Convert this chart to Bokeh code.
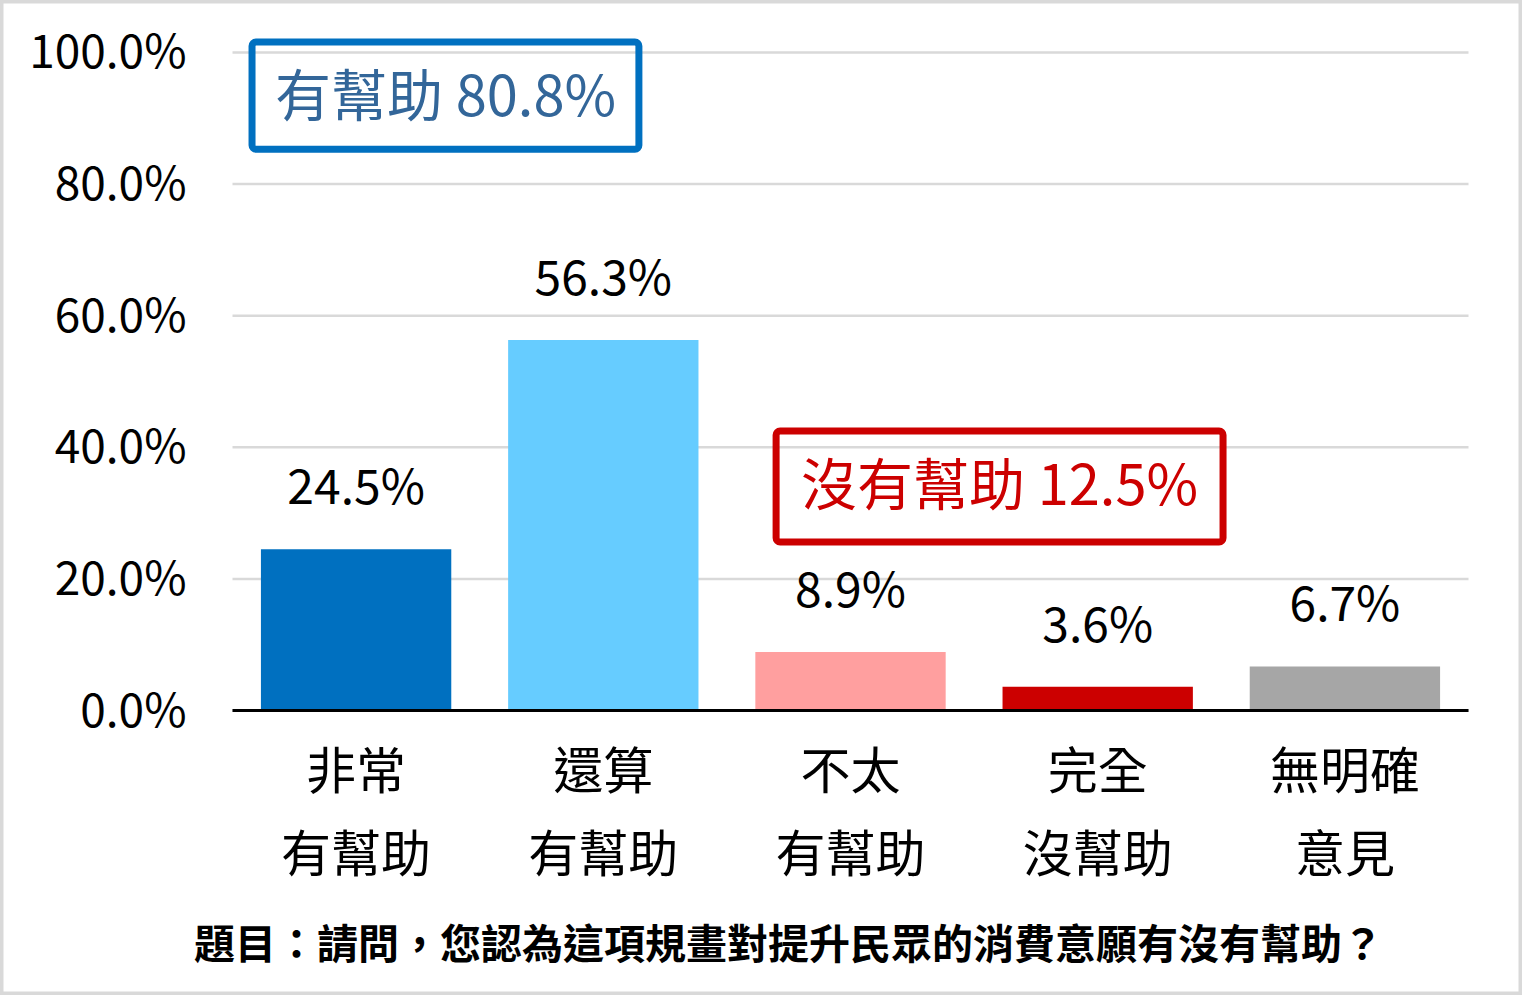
from bokeh.plotting import figure
from bokeh.models import Range1d, Label, BoxAnnotation, ColumnDataSource
from bokeh.embed import file_html
from bokeh.resources import INLINE
from bokeh.core.properties import value

categories = ["非常\n有幫助", "還算\n有幫助", "不太\n有幫助", "完全\n沒幫助", "無明確\n意見"]
values = [24.5, 56.3, 8.9, 3.6, 6.7]
colors = ["#0070C0", "#66CCFF", "#FF9F9F", "#CC0000", "#A6A6A6"]
y_ticks = [0, 20, 40, 60, 80, 100]
helpful_text = "有幫助 80.8%"
unhelpful_text = "沒有幫助 12.5%"
question = "題目：請問，您認為這項規畫對提升民眾的消費意願有沒有幫助？"

FONT = "Noto Sans CJK TC"
W, H = 1522, 995
n = len(categories)

xs = [i + 0.5 for i in range(n)]
line1 = [c.split("\n")[0] for c in categories]
line2 = [c.split("\n")[1] for c in categories]
src = ColumnDataSource(dict(x=xs, top=values, color=colors,
                            label=[f"{v:.1f}%" for v in values],
                            l1=line1, l2=line2, zero=[0] * n))
tick_src = ColumnDataSource(dict(y=y_ticks, x0=[0] * len(y_ticks), x1=[n] * len(y_ticks),
                                 label=[f"{t:.1f}%" for t in y_ticks]))

p = figure(width=W, height=H, x_range=Range1d(-0.9385, 5.2184),
           y_range=Range1d(-43.31, 107.90), output_backend="svg", toolbar_location=None,
           min_border=0, min_border_left=0, min_border_right=0, min_border_top=0,
           min_border_bottom=0)
p.xaxis.visible = False
p.yaxis.visible = False
p.xgrid.visible = False
p.ygrid.visible = False
p.background_fill_color = "white"
p.border_fill_color = "white"
p.outline_line_color = "#D9D9D9"
p.outline_line_width = 6

# horizontal gridlines and value-axis labels
p.segment(x0="x0", x1="x1", y0="y", y1="y", source=tick_src,
          line_color="#D9D9D9", line_width=2.5)
p.text(x="x0", y="y", text="label", source=tick_src, x_offset=-46, y_offset=-4,
       text_align="right", text_baseline="middle",
       text_font=value(FONT), text_font_size="46px", text_color="black")

# bars and value labels
p.vbar(x="x", top="top", width=0.77, fill_color="color", line_color=None, source=src)
p.text(x="x", y="top", text="label", source=src, y_offset=-66,
       text_align="center", text_baseline="middle",
       text_font=value(FONT), text_font_size="48px", text_color="black")

# category axis line
p.segment(x0=[0], x1=[n], y0=[0], y1=[0], line_color="black", line_width=3)

# category labels (two lines) under the baseline
p.text(x="x", y="zero", text="l1", source=src, y_offset=56,
       text_align="center", text_baseline="middle",
       text_font=value(FONT), text_font_size="50px", text_color="black")
p.text(x="x", y="zero", text="l2", source=src, y_offset=139,
       text_align="center", text_baseline="middle",
       text_font=value(FONT), text_font_size="50px", text_color="black")

# summary boxes
p.add_layout(BoxAnnotation(left=0.079, right=1.644, top=101.6, bottom=85.3,
                           fill_color=None, line_color="#0070C0", line_alpha=1.0,
                           line_width=7, border_radius=4))
p.add_layout(Label(x=0.862, y=94.1, text=helpful_text, text_align="center",
                   text_baseline="middle", text_font=FONT, text_font_size="56px",
                   text_color="#336699"))
p.add_layout(BoxAnnotation(left=2.199, right=4.007, top=42.48, bottom=25.61,
                           fill_color=None, line_color="#CC0000", line_alpha=1.0,
                           line_width=7, border_radius=4))
p.add_layout(Label(x=3.103, y=34.9, text=unhelpful_text, text_align="center",
                   text_baseline="middle", text_font=FONT, text_font_size="56px",
                   text_color="#CC0000"))

# question
p.text(x=[2.249], y=[0], text=[question], y_offset=230, text_align="center",
       text_baseline="middle", text_font=value(FONT), text_font_size="41px",
       text_font_style="bold", text_color="black")

open("out.html", "w").write(file_html(p, INLINE))
